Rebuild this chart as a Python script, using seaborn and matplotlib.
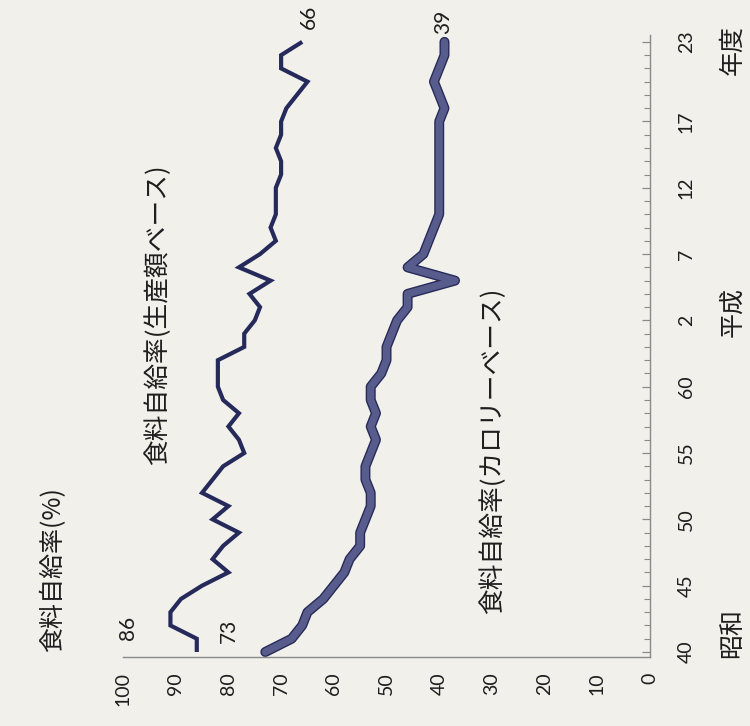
import matplotlib
matplotlib.use("Agg")
import numpy as np
import pandas as pd
import seaborn as sns
import matplotlib.pyplot as plt
import matplotlib.transforms as mtransforms
from matplotlib import patheffects as pe
from matplotlib.ticker import MultipleLocator

# Fiscal years 1965 (昭和40) .. 2011 (平成23)
years = list(range(1965, 2012))

# Food self-sufficiency ratio, calorie basis (%)
calorie = [73, 68, 66, 65, 62, 60, 58, 57, 55, 55,
           54, 53, 53, 54, 54, 53, 52, 53, 52, 53,
           53, 51, 50, 50, 49, 48, 46, 46, 37, 46,
           43, 42, 41, 40, 40, 40, 40, 40, 40, 40,
           40, 39, 40, 41, 40, 39, 39]

# Food self-sufficiency ratio, production-value basis (%)
production = [86, 86, 91, 91, 89, 85, 80, 83, 81, 78,
              83, 80, 85, 83, 81, 77, 78, 80, 78, 81,
              82, 82, 82, 77, 77, 75, 74, 76, 72, 78,
              74, 71, 72, 71, 71, 71, 70, 70, 71, 70,
              70, 69, 67, 65, 70, 70, 66]

value_ticks = [0, 10, 20, 30, 40, 50, 60, 70, 80, 90, 100]
year_ticks = [1965, 1970, 1975, 1980, 1985, 1990, 1995, 2000, 2005, 2011]
year_tick_labels = ["40", "45", "50", "55", "60", "2", "7", "12", "17", "23"]
era_names = ["昭和", "平成", "年度"]
era_years = [1966.4, 1990.6, 2010.4]

BG = "#f1f0eb"
PROD_COLOR = "#262a5a"
CAL_INNER = "#575c8c"
CAL_EDGE = "#282b58"
AXIS_COLOR = "#8a8a8a"
TEXT_COLOR = "#1e1e1e"
JP = ["Noto Sans CJK JP", "DejaVu Sans"]
JP_SIZE = 18

sns.set_theme(style="white")
plt.rcParams["font.family"] = ["Lato", "Noto Sans CJK JP", "DejaVu Sans"]

df_prod = pd.DataFrame({"year": years, "value": production})
df_cal = pd.DataFrame({"year": years, "value": calorie})

fig = plt.figure(figsize=(7.5, 7.26), dpi=100, facecolor=BG)
ax = fig.add_axes([0.164, 0.095, 0.7027, 0.857])
ax.set_facecolor(BG)

# The chart is laid out sideways: values run right-to-left, years bottom-to-top
sns.lineplot(data=df_prod, x="value", y="year", sort=False, estimator=None,
             color=PROD_COLOR, linewidth=3.0, ax=ax,
             solid_joinstyle="miter", solid_capstyle="butt")
sns.lineplot(data=df_cal, x="value", y="year", sort=False, estimator=None,
             color=CAL_INNER, linewidth=5.2, ax=ax,
             solid_joinstyle="round", solid_capstyle="round",
             path_effects=[pe.Stroke(linewidth=7.2, foreground=CAL_EDGE),
                           pe.Normal()])

ax.set_xlim(100, 0)
ax.set_ylim(1964.62, 2011.53)
ax.set_xlabel("")
ax.set_ylabel("")

for side in ("top", "left"):
    ax.spines[side].set_visible(False)
for side in ("bottom", "right"):
    ax.spines[side].set_color(AXIS_COLOR)
    ax.spines[side].set_linewidth(1.0)

# Value axis along the bottom
ax.set_xticks(value_ticks)
ax.set_xticklabels([str(v) for v in value_ticks], rotation=90)
ax.tick_params(axis="x", direction="in", length=4, width=0.9, color=AXIS_COLOR,
               pad=11, labelsize=14, labelcolor=TEXT_COLOR)

# Year axis on the right
ax.yaxis.tick_right()
ax.set_yticks(year_ticks)
ax.set_yticklabels(year_tick_labels, rotation=90, va="center")
ax.yaxis.set_minor_locator(MultipleLocator(1))
ax.tick_params(axis="y", which="major", direction="in", length=6, width=0.9,
               color=AXIS_COLOR, pad=20, labelsize=14, labelcolor=TEXT_COLOR,
               left=False, right=True)
ax.tick_params(axis="y", which="minor", direction="in", length=4, width=0.8,
               color=AXIS_COLOR, left=False, right=True)

# Era names beside the year labels
blend = mtransforms.blended_transform_factory(ax.transAxes, ax.transData)
for name, yr in zip(era_names, era_years):
    ax.text(1.156, yr, name, transform=blend, rotation=90, ha="center",
            va="center", fontsize=JP_SIZE, family=JP, color=TEXT_COLOR)

# Axis title
fig.text(53 / 750, 1 - 570 / 726, "食料自給率(%)", rotation=90, ha="center",
         va="center", fontsize=JP_SIZE, family=JP, color=TEXT_COLOR)

# Series names
ax.text(93.4, 1990.4, "食料自給率(生産額ベース)", rotation=90, ha="center",
        va="center", fontsize=18.5, family=JP, color=TEXT_COLOR)
ax.text(29.8, 1980.2, "食料自給率(カロリーベース)", rotation=90, ha="center",
        va="center", fontsize=18.5, family=JP, color=TEXT_COLOR)

# First and last values of each series
ends = [
    (production[0], years[0], (-69, 24)),
    (calorie[0], years[0], (-36, 21)),
    (production[-1], years[-1], (7, 25)),
    (calorie[-1], years[-1], (-1, 20)),
]
for val, yr, off in ends:
    ax.annotate(str(val), xy=(val, yr), xytext=off, textcoords="offset pixels",
                rotation=90, ha="center", va="center", fontsize=15,
                color=TEXT_COLOR)

fig.savefig("out.png", dpi=100, facecolor=BG)
